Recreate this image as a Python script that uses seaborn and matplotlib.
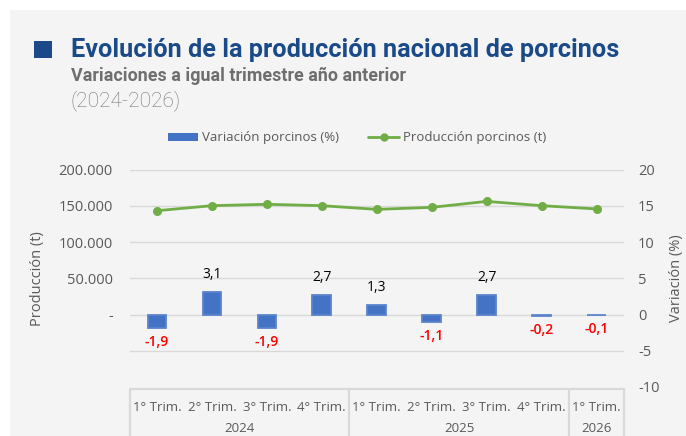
import numpy as np
import pandas as pd
import matplotlib
matplotlib.use("Agg")
import matplotlib.pyplot as plt
import matplotlib.transforms as mtransforms
from matplotlib.patches import Rectangle
from matplotlib.lines import Line2D
from matplotlib.ticker import FuncFormatter
import seaborn as sns

# ── Data ────────────────────────────────────────────────────────────────────
quarters = ["1° Trim.", "2° Trim.", "3° Trim.", "4° Trim.",
            "1° Trim.", "2° Trim.", "3° Trim.", "4° Trim.",
            "1° Trim."]
years = ["2024", "2024", "2024", "2024", "2025", "2025", "2025", "2025", "2026"]
variacion = [-1.9, 3.1, -1.9, 2.7, 1.3, -1.1, 2.7, -0.2, -0.1]
produccion = [143200, 150100, 152000, 150100, 145000, 147800, 156000, 150100, 145600]

BLUE = "#4472C4"
GREEN = "#70AD47"
TITLE_BLUE = "#1B4A89"
GRAY_TXT = "#595959"
GRID = "#D9D9D9"
PANEL = "#F4F4F4"

sns.set_style("white")
plt.rcParams["font.family"] = ["Open Sans", "DejaVu Sans"]
plt.rcParams["axes.unicode_minus"] = False

df = pd.DataFrame({
    "key": [f"{y}-{i}" for i, y in enumerate(years)],
    "trim": quarters,
    "year": years,
    "var": variacion,
    "prod": produccion,
})
xpos = np.arange(len(df))

W, H = 686, 436
fig = plt.figure(figsize=(W / 100, H / 100), dpi=100, facecolor="white")
fig.patches.append(Rectangle((10 / W, 0), 1, 1 - 10 / H, transform=fig.transFigure,
                             facecolor=PANEL, edgecolor="none", zorder=-10))

# ── Titles ──────────────────────────────────────────────────────────────────
fig.patches.append(Rectangle((34 / W, 1 - 58 / H), 18 / W, 17 / H, transform=fig.transFigure,
                             facecolor=TITLE_BLUE, edgecolor="none"))
cond = ["Roboto", "DejaVu Sans"]
fig.text(71 / W, 1 - 50 / H, "Evolución de la producción nacional de porcinos",
         family=cond, weight="bold", fontsize=18.2, color=TITLE_BLUE, va="center")
fig.text(71 / W, 1 - 76 / H, "Variaciones a igual trimestre año anterior",
         family=cond, weight="bold", fontsize=12.9, color="#6E6E6E", va="center")
fig.text(71 / W, 1 - 101 / H, "(2024-2026)",
         family=cond, weight="light", fontsize=15, color="#767676", va="center")

# ── Axes ────────────────────────────────────────────────────────────────────
x0, x1, ytop, ybot = 129.5, 624, 169.5, 387
ax = fig.add_axes([x0 / W, 1 - ybot / H, (x1 - x0) / W, (ybot - ytop) / H])
ax.set_facecolor("none")
ax2 = ax.twinx()
ax2.set_facecolor("none")

# line: production (left axis)
sns.lineplot(x=xpos, y=df["prod"], ax=ax, color=GREEN, linewidth=2,
             marker="o", markersize=6.5, markeredgewidth=0, zorder=3)
ax.set_ylim(-100000, 200000)
ax.set_yticks(np.arange(-50000, 200001, 50000))


def fmt_left(v, pos):
    if v < 0:
        return ""
    if v == 0:
        return "-"
    return f"{int(v):,}".replace(",", ".")


ax.yaxis.set_major_formatter(FuncFormatter(fmt_left))
ax.grid(axis="y", color=GRID, linewidth=1)
ax.set_axisbelow(True)

# bars: variation (right axis)
sns.barplot(data=df, x="key", y="var", ax=ax2, color=BLUE, width=0.34,
            saturation=1, edgecolor="#5B84CC", linewidth=1.3, zorder=2)
ax2.set_ylim(-10, 20)
ax2.set_yticks(np.arange(-10, 21, 5))
ax2.yaxis.set_major_formatter(FuncFormatter(lambda v, p: f"{int(v)}"))

ax.set_xlim(-0.5, len(df) - 0.5)
ax2.set_xlim(-0.5, len(df) - 0.5)

for a in (ax, ax2):
    for s in a.spines.values():
        s.set_visible(False)
    a.tick_params(axis="both", length=0, labelsize=10.5, labelcolor=GRAY_TXT)
ax.tick_params(axis="y", pad=12)
ax2.tick_params(axis="y", pad=10)

# bar value labels
for i, v in enumerate(variacion):
    txt = f"{v:.1f}".replace(".", ",")
    if v >= 0:
        ax2.annotate(txt, (i, v), xytext=(0, 7), textcoords="offset points",
                     ha="center", va="bottom", fontsize=10, color="black")
    else:
        ax2.annotate(txt, (i, v), xytext=(0, -5), textcoords="offset points",
                     ha="center", va="top", fontsize=10, color="#FF0000",
                     weight="semibold")

ax.set_ylabel("Producción (t)", fontsize=10.5, color=GRAY_TXT)
ax.yaxis.set_label_coords(-(x0 - 45) / (x1 - x0), 0.5)
ax2.set_ylabel("Variación (%)", fontsize=10.5, color=GRAY_TXT, rotation=90)
ax2.yaxis.set_label_coords(1 + (669 - x1) / (x1 - x0), 0.5)

# ── Category table under the plot ───────────────────────────────────────────
ax2.set_xticks([])
ax.set_xticks(xpos)
ax.set_xticklabels(df["trim"], fontsize=9.5, color=GRAY_TXT)
ax.tick_params(axis="x", pad=10, labelsize=9.5)
ax.set_xlabel("")
ax2.set_xlabel("")

trans = mtransforms.blended_transform_factory(ax.transData, ax.transAxes)
ax.add_line(Line2D([-0.5, len(df) - 0.5], [-0.01, -0.01], transform=trans,
                   color=GRID, linewidth=1.6, clip_on=False))
bounds = [-0.5]
for i in range(1, len(years)):
    if years[i] != years[i - 1]:
        bounds.append(i - 0.5)
bounds.append(len(years) - 0.5)
for b in bounds:
    ax.add_line(Line2D([b, b], [-0.01, -0.3], transform=trans,
                       color=GRID, linewidth=1.6, clip_on=False))
for lo, hi in zip(bounds[:-1], bounds[1:]):
    yr = years[int(lo + 0.5)]
    ax.text((lo + hi) / 2, -(428 - ybot) / (ybot - ytop), yr, transform=trans,
            ha="center", va="center", fontsize=9.5, color=GRAY_TXT)

# ── Legend ──────────────────────────────────────────────────────────────────
handles = [Rectangle((0, 0), 1, 1, facecolor=BLUE, edgecolor="none"),
           Line2D([], [], color=GREEN, linewidth=2, marker="o", markersize=5)]
fig.legend(handles, ["Variación porcinos (%)", "Producción porcinos (t)"],
           loc="center", bbox_to_anchor=(357 / W, 1 - 138 / H), ncol=2,
           frameon=False, fontsize=9.5, labelcolor=GRAY_TXT,
           handlelength=2.3, handleheight=0.5, handletextpad=0.3,
           columnspacing=2.2)

fig.savefig("out.png", dpi=100, facecolor=fig.get_facecolor())
